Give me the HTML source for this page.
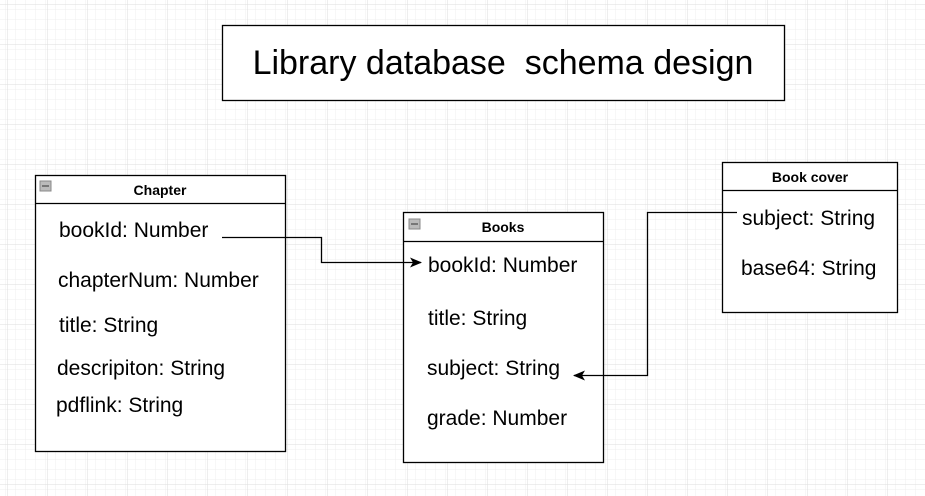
<!DOCTYPE html>
<html><head><style>
html,body{margin:0;padding:0;background:#fff;}
svg{display:block;}
text{font-family:"Liberation Sans",Arial,sans-serif;fill:#000;}
</style></head><body>
<svg width="925" height="496" xmlns="http://www.w3.org/2000/svg">
<defs>
<pattern id="g" width="10" height="10" patternUnits="userSpaceOnUse" x="8" y="5">
<path d="M10 0V10M0 10H10" stroke="#efefef" stroke-width="1" fill="none"/>
</pattern>
<pattern id="G" width="40" height="40" patternUnits="userSpaceOnUse" x="8" y="5">
<rect width="40" height="40" fill="url(#g)"/>
<path d="M40 0V40M0 40H40" stroke="#dedede" stroke-width="1" fill="none"/>
</pattern>
<marker id="a" markerWidth="12" markerHeight="10" refX="11" refY="5" orient="auto" markerUnits="userSpaceOnUse">
<path d="M0 0L12 5L0 10L3 5Z" fill="#000"/>
</marker>
</defs>
<rect width="925" height="496" fill="url(#G)"/>
<rect x="222.5" y="25.5" width="562" height="75" fill="#fff" stroke="#000" stroke-width="1.3"/>
<text x="503" y="74" font-size="34" text-anchor="middle" xml:space="preserve">Library database  schema design</text>
<rect x="35.5" y="175.5" width="250" height="276" fill="#fff" stroke="#000" stroke-width="1.3"/>
<line x1="35" y1="203.5" x2="285" y2="203.5" stroke="#000" stroke-width="1.3"/>
<rect x="40" y="181" width="11" height="10" fill="#bbb" stroke="#888"/><line x1="42" y1="186" x2="49" y2="186" stroke="#333"/>
<text x="160" y="195" font-size="14" font-weight="bold" text-anchor="middle">Chapter</text>
<text x="59" y="237" font-size="21">bookId: Number</text>
<text x="58" y="287" font-size="21">chapterNum: Number</text>
<text x="59" y="332" font-size="21">title: String</text>
<text x="57" y="375" font-size="21">descripiton: String</text>
<text x="56" y="412" font-size="21">pdflink: String</text>
<rect x="403.5" y="212.5" width="200" height="250" fill="#fff" stroke="#000" stroke-width="1.3"/>
<line x1="403" y1="241.5" x2="603" y2="241.5" stroke="#000" stroke-width="1.3"/>
<rect x="409" y="219" width="11" height="10" fill="#bbb" stroke="#888"/><line x1="411" y1="224" x2="418" y2="224" stroke="#333"/>
<text x="503" y="232" font-size="14" font-weight="bold" text-anchor="middle">Books</text>
<text x="428" y="272" font-size="21">bookId: Number</text>
<text x="428" y="325" font-size="21">title: String</text>
<text x="427" y="375" font-size="21">subject: String</text>
<text x="427" y="425" font-size="21">grade: Number</text>
<rect x="722.5" y="162.5" width="175" height="150" fill="#fff" stroke="#000" stroke-width="1.3"/>
<line x1="722" y1="190.5" x2="897" y2="190.5" stroke="#000" stroke-width="1.3"/>
<text x="810" y="182" font-size="14" font-weight="bold" text-anchor="middle">Book cover</text>
<text x="742" y="225" font-size="21">subject: String</text>
<text x="741" y="275" font-size="21">base64: String</text>
<path d="M222 237.5H321.5V262.5H421" fill="none" stroke="#000" stroke-width="1.3" marker-end="url(#a)"/>
<path d="M737 212.5H647.5V375.5H574" fill="none" stroke="#000" stroke-width="1.3" marker-end="url(#a)"/>
</svg>
</body></html>
